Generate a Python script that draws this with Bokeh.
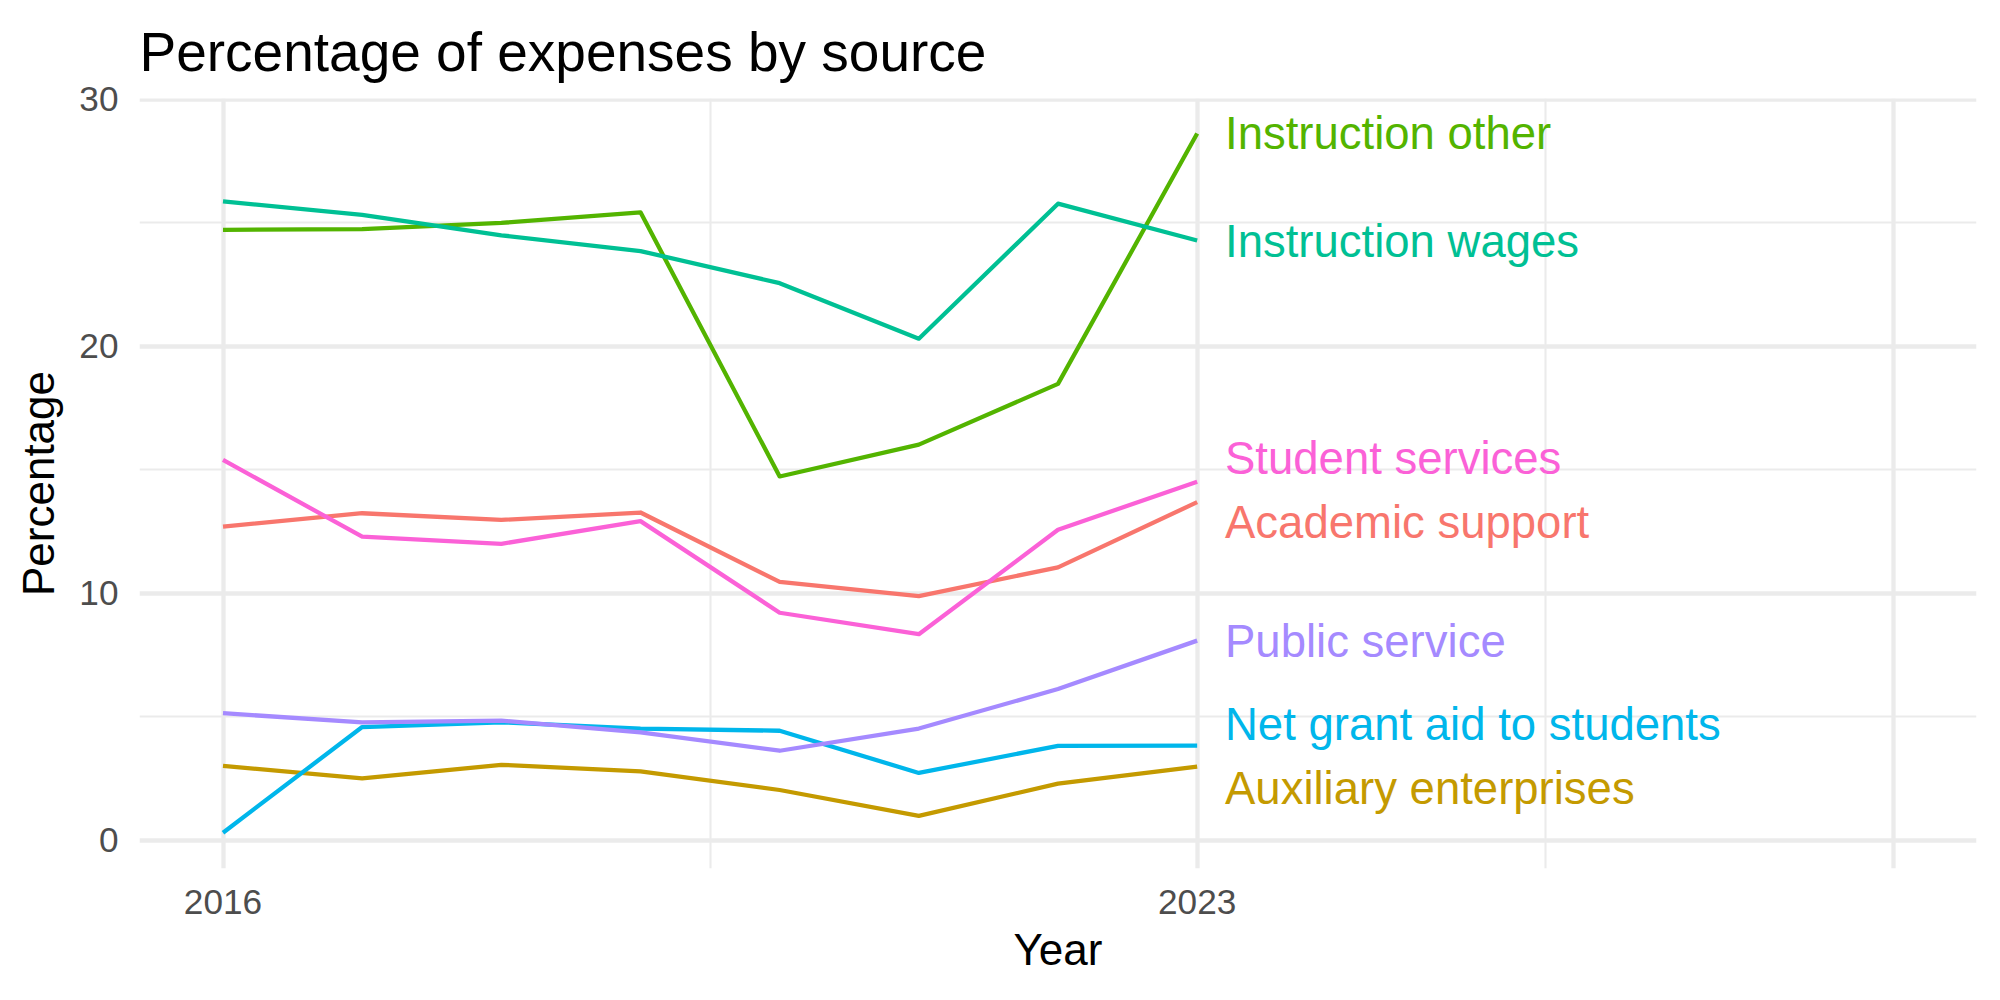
from bokeh.plotting import figure
from bokeh.models import FixedTicker, Range1d, ColumnDataSource
from bokeh.core.properties import value
from bokeh.embed import file_html
from bokeh.resources import INLINE

# ---- data ----
years = [2016, 2017, 2018, 2019, 2020, 2021, 2022, 2023]
categories = ["Academic support", "Auxiliary enterprises", "Instruction other",
              "Instruction wages", "Net grant aid to students", "Public service",
              "Student services"]
colors = ["#F8766D", "#C49A00", "#53B400", "#00C094", "#00B6EB", "#A58AFF", "#FB61D7"]

academic_support = [12.70, 13.24, 12.97, 13.27, 10.46, 9.88, 11.05, 13.69]
auxiliary_enterprises = [3.01, 2.50, 3.05, 2.78, 2.03, 0.98, 2.29, 2.98]
instruction_other = [24.72, 24.75, 25.00, 25.43, 14.73, 16.02, 18.48, 28.62]
instruction_wages = [25.87, 25.33, 24.50, 23.86, 22.56, 20.31, 25.78, 24.29]
net_grant_aid = [0.30, 4.58, 4.77, 4.52, 4.43, 2.72, 3.82, 3.83]
public_service = [5.14, 4.77, 4.84, 4.36, 3.62, 4.52, 6.12, 8.08]
student_services = [15.40, 12.29, 12.00, 12.92, 9.21, 8.34, 12.57, 14.52]

series = [academic_support, auxiliary_enterprises, instruction_other,
          instruction_wages, net_grant_aid, public_service, student_services]

# label positions (repelled end labels)
label_x = 2023.2
label_y = [12.87, 2.09, 28.63, 24.26, 4.67, 8.05, 15.44]

x_major = [2016, 2023]
x_grid_major = [2016, 2023, 2028]
x_grid_minor = [2019.5, 2025.5]
y_major = [0, 10, 20, 30]
y_minor = [5, 15, 25]

TITLE = "Percentage of expenses by source"
FONT = "Liberation Sans"

p = figure(width=2000, height=1000,
           x_range=Range1d(2015.4, 2028.6), y_range=Range1d(-1.15, 30.04),
           output_backend="svg", toolbar_location=None,
           min_border_left=139, min_border_right=24,
           min_border_top=98, min_border_bottom=132)
p.outline_line_color = None
p.background_fill_color = "white"
p.border_fill_color = "white"

# title
p.title.text = TITLE
p.title.text_font = FONT
p.title.text_font_size = "55px"
p.title.text_font_style = "normal"
p.title.text_color = "black"
p.title.align = "left"
p.title.standoff = 31

# grids
p.xgrid.ticker = FixedTicker(ticks=x_grid_major, minor_ticks=x_grid_minor)
p.ygrid.ticker = FixedTicker(ticks=y_major, minor_ticks=y_minor)
for g in (p.xgrid, p.ygrid):
    g.grid_line_color = "#EBEBEB"
    g.grid_line_width = 4.27
    g.minor_grid_line_color = "#EBEBEB"
    g.minor_grid_line_width = 2.13

# axes
p.xaxis.ticker = FixedTicker(ticks=x_major)
p.yaxis.ticker = FixedTicker(ticks=y_major)
for ax in (p.xaxis, p.yaxis):
    ax.axis_line_color = None
    ax.major_tick_line_color = None
    ax.minor_tick_line_color = None
    ax.major_tick_out = 0
    ax.major_tick_in = 0
    ax.major_label_text_font = FONT
    ax.major_label_text_font_size = "35.2px"
    ax.major_label_text_color = "#4D4D4D"
    ax.axis_label_text_font = FONT
    ax.axis_label_text_font_size = "44px"
    ax.axis_label_text_font_style = "normal"
    ax.axis_label_text_color = "black"
p.xaxis.axis_label = "Year"
p.yaxis.axis_label = "Percentage"
p.xaxis.major_label_standoff = 21
p.xaxis.axis_label_standoff = 8
p.yaxis.major_label_standoff = 21
p.yaxis.axis_label_standoff = 13

# lines
for vals, col in zip(series, colors):
    src = ColumnDataSource(dict(x=years, y=vals))
    p.line("x", "y", source=src, line_color=col, line_width=4.27,
           line_join="round")

# end labels
lab = ColumnDataSource(dict(x=[label_x] * len(categories), y=label_y,
                            text=categories, color=colors))
p.text("x", "y", text="text", source=lab, text_color="color",
       text_font=value(FONT), text_font_size="45.5px",
       text_align="left", text_baseline="middle")

open("out.html", "w").write(file_html(p, INLINE))
